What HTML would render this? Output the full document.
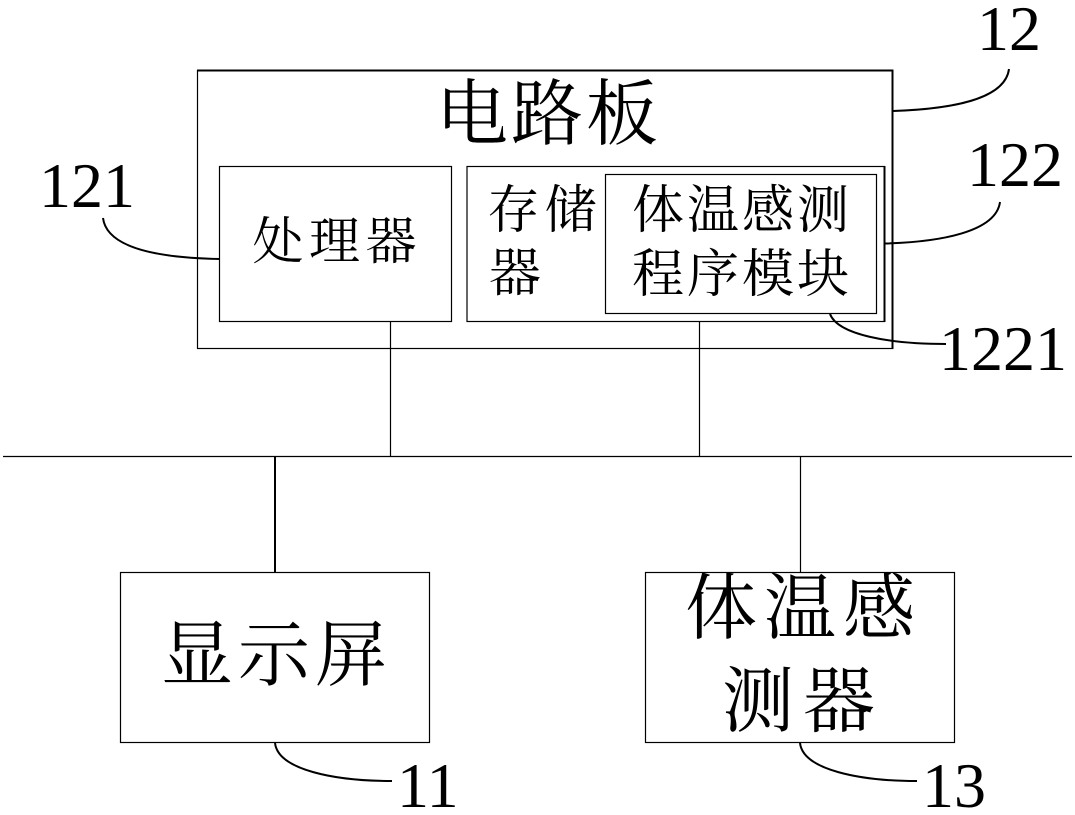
<!DOCTYPE html>
<html><head><meta charset="utf-8">
<style>
html,body{margin:0;padding:0;background:#fff}
svg{display:block}
text{fill:#000}
.c{font-family:"Noto Serif CJK SC","Liberation Serif",serif}
.n{font-family:"Liberation Serif",serif}
</style></head>
<body>
<svg width="1075" height="815" viewBox="0 0 1075 815" xmlns="http://www.w3.org/2000/svg">
<g fill="none" stroke="#000" stroke-width="1.2">
<rect x="197.5" y="70.5" width="695" height="278"/>
<rect x="219.5" y="166.5" width="232" height="155"/>
<rect x="467" y="166.5" width="417.5" height="155"/>
<rect x="605.5" y="174.5" width="271" height="139"/>
<rect x="120.5" y="572.5" width="309" height="170"/>
<rect x="645.5" y="572.5" width="309" height="170"/>
<path d="M3 456.5H1072M390.5 322V456M699.5 322V456M800.5 456V572"/>
</g>
<g fill="none" stroke="#000" stroke-width="2">
<path d="M197 70.5H893.5M892.5 70V349"/>
<path d="M884.5 166V322"/>
<path d="M275 456V572"/>
<path d="M893 111C950 109 1005 100 1009 69"/>
<path d="M885 243.5C940 242 996 232 1000 202"/>
<path d="M220 259C165 258 107 250 103 218"/>
<path d="M830 314C838 335 890 344 946 344"/>
<path d="M275 743C278 770 335 781 392 781"/>
<path d="M800 743C803 770 860 781 917 781"/>
</g>
<g class="c">
<text x="436" y="139" font-size="72" letter-spacing="3">电路板</text>
<text x="252.5" y="259" font-size="51" letter-spacing="5.5">处理器</text>
<text x="487.5" y="228" font-size="52" letter-spacing="5">存储</text>
<text x="489" y="291" font-size="52">器</text>
<text x="632" y="228" font-size="52" letter-spacing="3">体温感测</text>
<text x="632" y="292" font-size="52" letter-spacing="3">程序模块</text>
<text x="161" y="680" font-size="72" letter-spacing="5">显示屏</text>
<text x="685" y="633" font-size="72" letter-spacing="7">体温感</text>
<text x="722" y="726" font-size="72" letter-spacing="9">测器</text>
</g>
<g class="n" font-size="64">
<text x="977" y="50">12</text>
<text x="39" y="207">121</text>
<text x="967" y="186">122</text>
<text x="939" y="370">1221</text>
<text x="397" y="807">11</text>
<text x="922" y="807">13</text>
</g>
</svg>
</body></html>
